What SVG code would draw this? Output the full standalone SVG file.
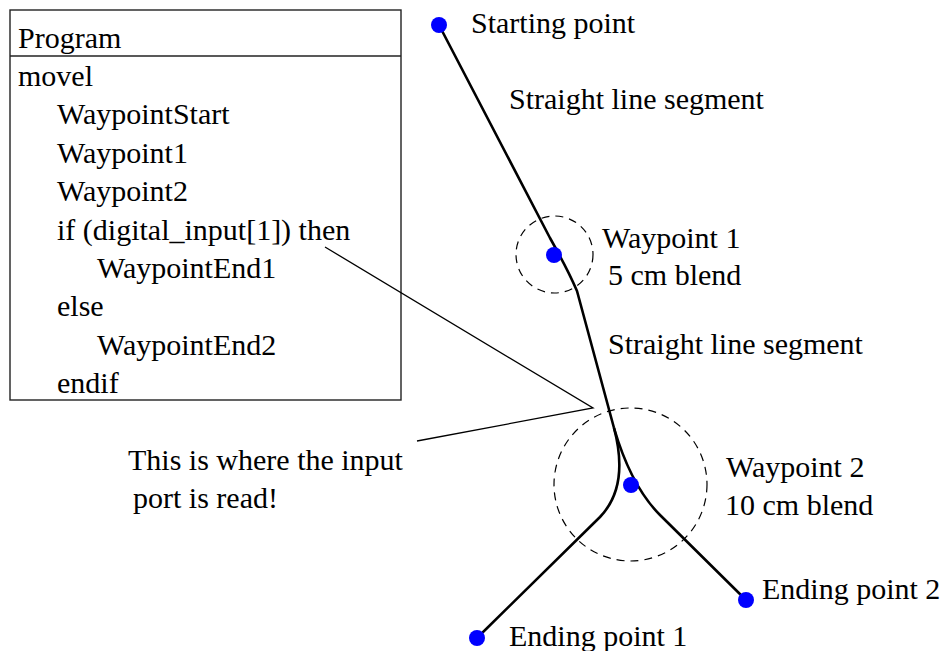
<svg xmlns="http://www.w3.org/2000/svg" width="949" height="651" viewBox="0 0 949 651">
<style>
text{font-family:"Liberation Serif","Times New Roman",serif;font-size:30px;fill:#000}
.path{fill:none;stroke:#000;stroke-width:2.6;stroke-linejoin:round}
.ptr{fill:none;stroke:#000;stroke-width:1.3}
.blend{fill:none;stroke:#000;stroke-width:1.2;stroke-dasharray:8 6}
.wp{fill:#0000ff}
</style>
<rect width="949" height="651" fill="#fff"/>
<g id="program">
<rect x="10" y="10" width="391" height="390" fill="none" stroke="#222" stroke-width="1.4"/>
<line x1="10" y1="56" x2="401" y2="56" stroke="#222" stroke-width="1.4"/>
<text x="18" y="48">Program</text>
<text x="18" y="86">movel</text>
<text x="57" y="124.4">WaypointStart</text>
<text x="57" y="162.8">Waypoint1</text>
<text x="57" y="201.2">Waypoint2</text>
<text x="57" y="239.6">if (digital_input[1]) then</text>
<text x="97" y="278">WaypointEnd1</text>
<text x="57" y="316.4">else</text>
<text x="97" y="354.8">WaypointEnd2</text>
<text x="57" y="393.2">endif</text>
</g>
<g id="connectors">
<path class="path" d="M439,25 L550,238 Q568,270 577,291 L614,428"/>
<path class="path" d="M614,428 C622,458 624,492 600,517 L477,638"/>
<path class="path" d="M614,428 Q631,486 660,515 L746,600"/>
<polyline class="ptr" points="325,247 593,408 417,441"/>
</g>
<g id="blend1">
<circle class="blend" cx="554.5" cy="254.5" r="38.5"/>
</g>
<g id="blend2">
<circle class="blend" cx="630.5" cy="484.5" r="76.5"/>
</g>
<g id="start">
<circle class="wp" cx="439" cy="25" r="8"/>
<text x="471" y="33">Starting point</text>
</g>
<g id="seg1"><text x="509" y="109">Straight line segment</text></g>
<g id="waypoint1">
<circle class="wp" cx="554" cy="255" r="8"/>
<text x="602" y="248">Waypoint 1</text>
<text x="608" y="285">5 cm blend</text>
</g>
<g id="seg2"><text x="608" y="354">Straight line segment</text></g>
<g id="waypoint2">
<circle class="wp" cx="631" cy="485" r="8"/>
<text x="726" y="477">Waypoint 2</text>
<text x="725" y="515">10 cm blend</text>
</g>
<g id="end2">
<circle class="wp" cx="746" cy="600" r="8"/>
<text x="762" y="599">Ending point 2</text>
</g>
<g id="end1">
<circle class="wp" cx="477" cy="638" r="8"/>
<text x="509" y="646">Ending point 1</text>
</g>
<g id="note">
<text x="128" y="470">This is where the input</text>
<text x="133" y="508">port is read!</text>
</g>
</svg>
